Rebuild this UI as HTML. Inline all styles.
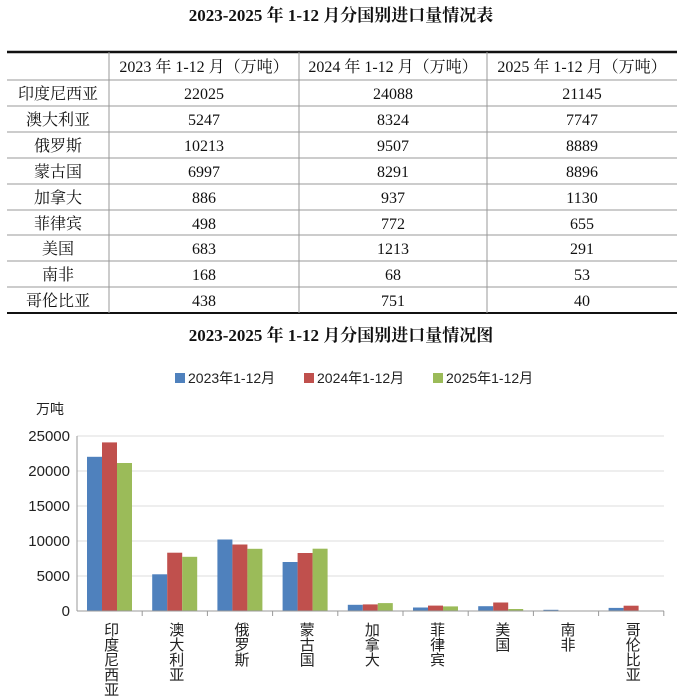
<!DOCTYPE html>
<html><head><meta charset="utf-8"><style>
body{margin:0;background:#fff}
svg{display:block}
.s{font-family:"Liberation Serif","Noto Serif CJK SC",serif;fill:#111}
.a{font-family:"Liberation Sans","Noto Sans CJK SC",sans-serif;fill:#222}
</style></head><body>
<svg width="682" height="700" xmlns="http://www.w3.org/2000/svg">
<text class="s" x="341" y="21" font-size="17" text-anchor="middle" font-weight="bold">2023-2025 年 1-12 月分国别进口量情况表</text>
<line x1="7" y1="52" x2="677" y2="52" stroke="#111" stroke-width="2.5"/>
<line x1="7" y1="313" x2="677" y2="313" stroke="#111" stroke-width="2"/>
<g stroke="#999" stroke-width="1">
<line x1="109" y1="52" x2="109" y2="313"/><line x1="299" y1="52" x2="299" y2="313"/><line x1="487" y1="52" x2="487" y2="313"/>
<line x1="7" y1="80" x2="677" y2="80"/><line x1="7" y1="106" x2="677" y2="106"/><line x1="7" y1="132" x2="677" y2="132"/><line x1="7" y1="158" x2="677" y2="158"/><line x1="7" y1="184" x2="677" y2="184"/><line x1="7" y1="210" x2="677" y2="210"/><line x1="7" y1="235" x2="677" y2="235"/><line x1="7" y1="261" x2="677" y2="261"/><line x1="7" y1="287" x2="677" y2="287"/>
</g>
<g class="s" font-size="16" text-anchor="middle">
<text x="204" y="72">2023 年 1-12 月（万吨）</text><text x="393" y="72">2024 年 1-12 月（万吨）</text><text x="582" y="72">2025 年 1-12 月（万吨）</text>
<text x="58" y="99">印度尼西亚</text><text x="204" y="99">22025</text><text x="393" y="99">24088</text><text x="582" y="99">21145</text>
<text x="58" y="125">澳大利亚</text><text x="204" y="125">5247</text><text x="393" y="125">8324</text><text x="582" y="125">7747</text>
<text x="58" y="151">俄罗斯</text><text x="204" y="151">10213</text><text x="393" y="151">9507</text><text x="582" y="151">8889</text>
<text x="58" y="177">蒙古国</text><text x="204" y="177">6997</text><text x="393" y="177">8291</text><text x="582" y="177">8896</text>
<text x="58" y="203">加拿大</text><text x="204" y="203">886</text><text x="393" y="203">937</text><text x="582" y="203">1130</text>
<text x="58" y="229">菲律宾</text><text x="204" y="229">498</text><text x="393" y="229">772</text><text x="582" y="229">655</text>
<text x="58" y="254">美国</text><text x="204" y="254">683</text><text x="393" y="254">1213</text><text x="582" y="254">291</text>
<text x="58" y="280">南非</text><text x="204" y="280">168</text><text x="393" y="280">68</text><text x="582" y="280">53</text>
<text x="58" y="306">哥伦比亚</text><text x="204" y="306">438</text><text x="393" y="306">751</text><text x="582" y="306">40</text>
</g>
<text class="s" x="341" y="341" font-size="17" text-anchor="middle" font-weight="bold">2023-2025 年 1-12 月分国别进口量情况图</text>
<g class="a" font-size="14">
<rect x="175" y="373" width="10" height="10" fill="#4f81bd"/><text x="188" y="383">2023年1-12月</text>
<rect x="304" y="373" width="10" height="10" fill="#c0504d"/><text x="317" y="383">2024年1-12月</text>
<rect x="433" y="373" width="10" height="10" fill="#9bbb59"/><text x="446" y="383">2025年1-12月</text>
<text x="36" y="414">万吨</text>
</g>
<g stroke="#ddd" stroke-width="1">
<line x1="77" y1="436" x2="664" y2="436"/><line x1="77" y1="471" x2="664" y2="471"/><line x1="77" y1="506" x2="664" y2="506"/><line x1="77" y1="541" x2="664" y2="541"/><line x1="77" y1="576" x2="664" y2="576"/>
</g>
<g class="a" font-size="15" text-anchor="end">
<text x="70" y="441">25000</text><text x="70" y="476">20000</text><text x="70" y="511">15000</text><text x="70" y="546">10000</text><text x="70" y="581">5000</text><text x="70" y="616">0</text>
</g>
<g>
<rect x="87" y="456.8" width="15" height="154.2" fill="#4f81bd"/><rect x="102" y="442.4" width="15" height="168.6" fill="#c0504d"/><rect x="117" y="463" width="15" height="148" fill="#9bbb59"/>
<rect x="152.2" y="574.3" width="15" height="36.7" fill="#4f81bd"/><rect x="167.2" y="552.7" width="15" height="58.3" fill="#c0504d"/><rect x="182.2" y="556.8" width="15" height="54.2" fill="#9bbb59"/>
<rect x="217.4" y="539.5" width="15" height="71.5" fill="#4f81bd"/><rect x="232.4" y="544.5" width="15" height="66.5" fill="#c0504d"/><rect x="247.4" y="548.8" width="15" height="62.2" fill="#9bbb59"/>
<rect x="282.6" y="562" width="15" height="49" fill="#4f81bd"/><rect x="297.6" y="553" width="15" height="58" fill="#c0504d"/><rect x="312.6" y="548.7" width="15" height="62.3" fill="#9bbb59"/>
<rect x="347.8" y="604.8" width="15" height="6.2" fill="#4f81bd"/><rect x="362.8" y="604.4" width="15" height="6.6" fill="#c0504d"/><rect x="377.8" y="603.1" width="15" height="7.9" fill="#9bbb59"/>
<rect x="413" y="607.5" width="15" height="3.5" fill="#4f81bd"/><rect x="428" y="605.6" width="15" height="5.4" fill="#c0504d"/><rect x="443" y="606.4" width="15" height="4.6" fill="#9bbb59"/>
<rect x="478.2" y="606.2" width="15" height="4.8" fill="#4f81bd"/><rect x="493.2" y="602.5" width="15" height="8.5" fill="#c0504d"/><rect x="508.2" y="609" width="15" height="2" fill="#9bbb59"/>
<rect x="543.4" y="609.8" width="15" height="1.2" fill="#4f81bd"/><rect x="558.4" y="610.5" width="15" height="0.5" fill="#c0504d"/><rect x="573.4" y="610.6" width="15" height="0.4" fill="#9bbb59"/>
<rect x="608.6" y="607.9" width="15" height="3.1" fill="#4f81bd"/><rect x="623.6" y="605.7" width="15" height="5.3" fill="#c0504d"/><rect x="638.6" y="610.7" width="15" height="0.3" fill="#9bbb59"/>
</g>
<line x1="77" y1="436" x2="77" y2="611" stroke="#999"/>
<line x1="77" y1="611" x2="664" y2="611" stroke="#999"/>
<g stroke="#999">
<line x1="142.2" y1="611" x2="142.2" y2="616"/><line x1="207.4" y1="611" x2="207.4" y2="616"/><line x1="272.6" y1="611" x2="272.6" y2="616"/><line x1="337.8" y1="611" x2="337.8" y2="616"/><line x1="403" y1="611" x2="403" y2="616"/><line x1="468.2" y1="611" x2="468.2" y2="616"/><line x1="533.4" y1="611" x2="533.4" y2="616"/><line x1="598.6" y1="611" x2="598.6" y2="616"/><line x1="663.8" y1="611" x2="663.8" y2="616"/>
</g>
<g class="a" font-size="15" text-anchor="middle">
<text y="635"><tspan x="111.6">印</tspan><tspan x="111.6" dy="15">度</tspan><tspan x="111.6" dy="15">尼</tspan><tspan x="111.6" dy="15">西</tspan><tspan x="111.6" dy="15">亚</tspan></text>
<text y="635"><tspan x="176.8">澳</tspan><tspan x="176.8" dy="15">大</tspan><tspan x="176.8" dy="15">利</tspan><tspan x="176.8" dy="15">亚</tspan></text>
<text y="635"><tspan x="242">俄</tspan><tspan x="242" dy="15">罗</tspan><tspan x="242" dy="15">斯</tspan></text>
<text y="635"><tspan x="307.2">蒙</tspan><tspan x="307.2" dy="15">古</tspan><tspan x="307.2" dy="15">国</tspan></text>
<text y="635"><tspan x="372.4">加</tspan><tspan x="372.4" dy="15">拿</tspan><tspan x="372.4" dy="15">大</tspan></text>
<text y="635"><tspan x="437.6">菲</tspan><tspan x="437.6" dy="15">律</tspan><tspan x="437.6" dy="15">宾</tspan></text>
<text y="635"><tspan x="502.8">美</tspan><tspan x="502.8" dy="15">国</tspan></text>
<text y="635"><tspan x="568">南</tspan><tspan x="568" dy="15">非</tspan></text>
<text y="635"><tspan x="633.2">哥</tspan><tspan x="633.2" dy="15">伦</tspan><tspan x="633.2" dy="15">比</tspan><tspan x="633.2" dy="15">亚</tspan></text>
</g>
</svg>
</body></html>
